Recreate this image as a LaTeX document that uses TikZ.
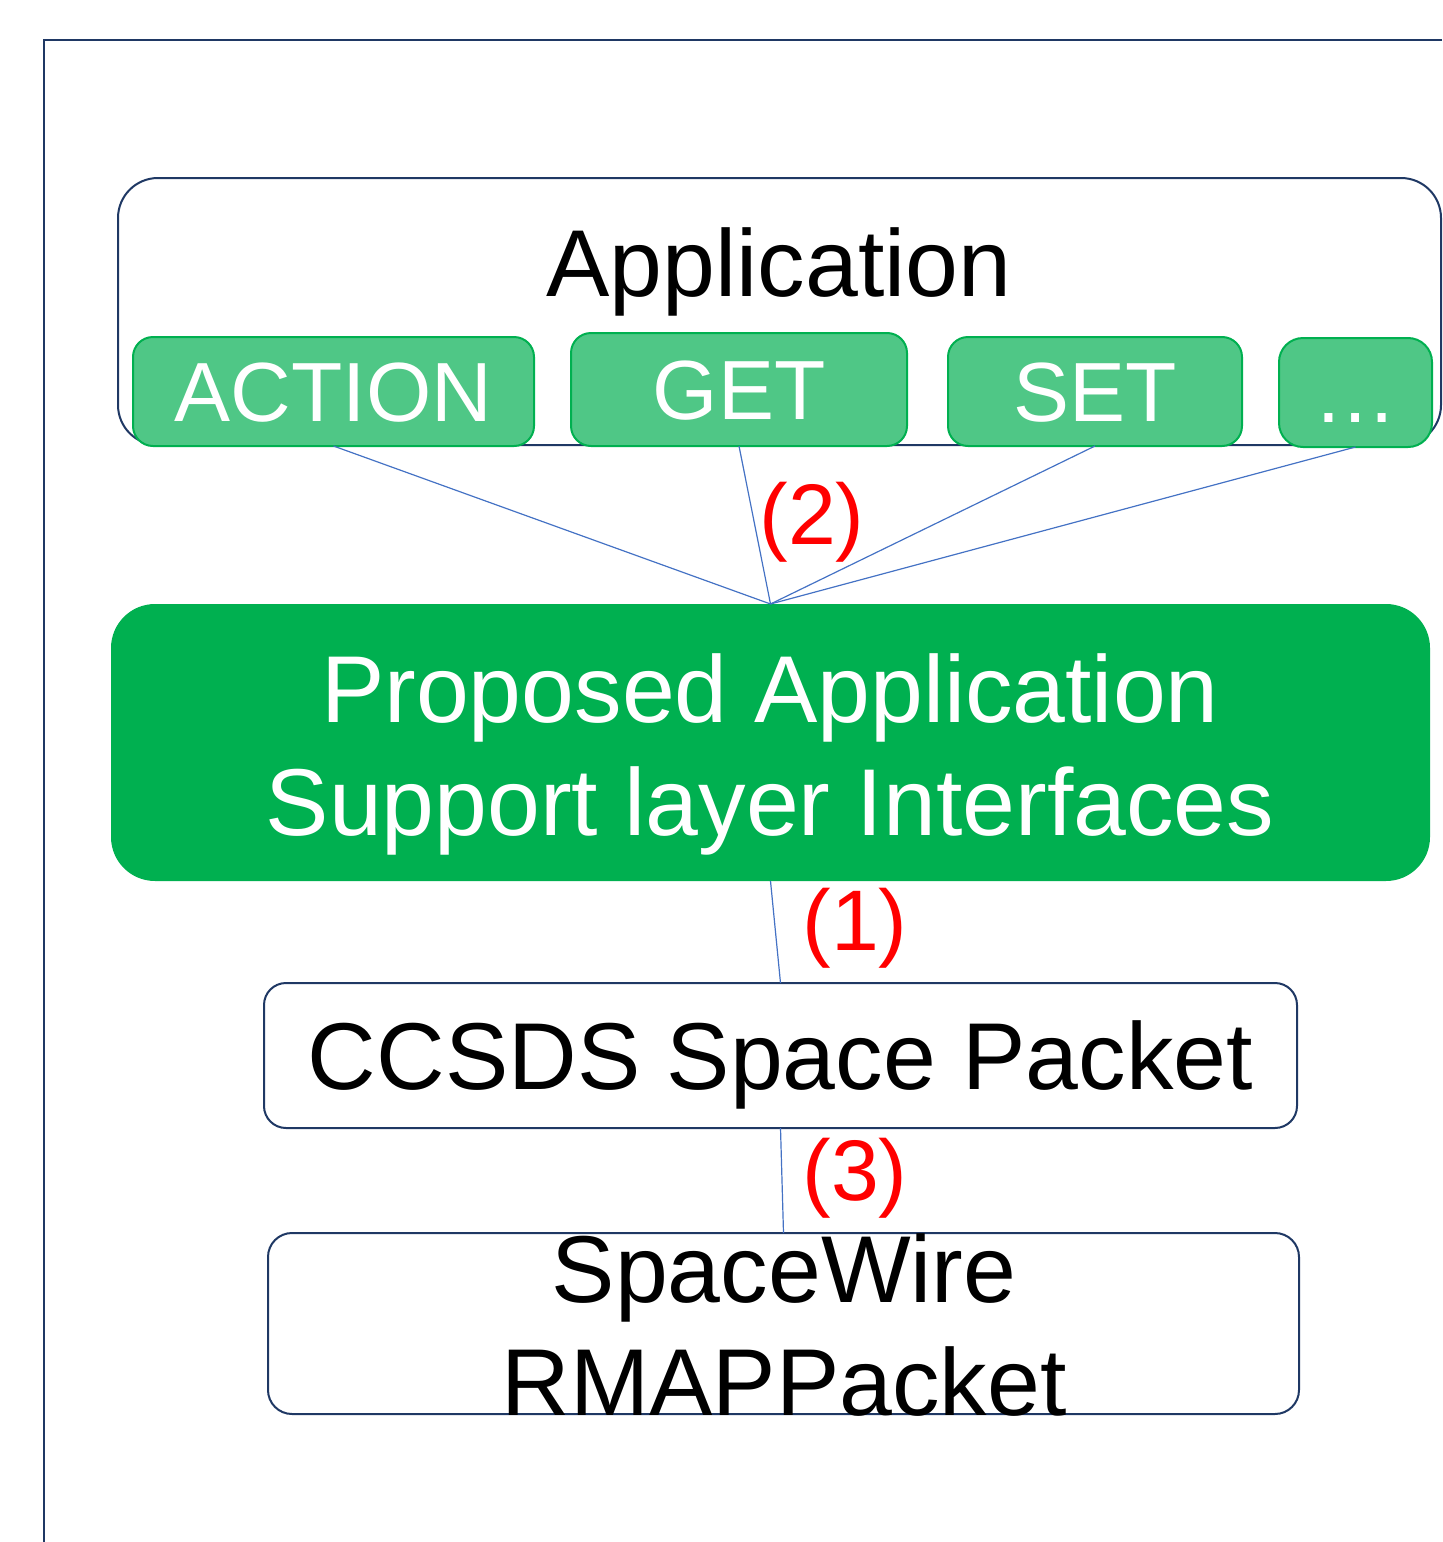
\documentclass[tikz,border=0pt]{standalone}
\usepackage{fontspec}
\setmainfont{Liberation Sans}

\definecolor{navy}{HTML}{1F3864}
\definecolor{opgreen}{HTML}{4FC786}
\definecolor{aslgreen}{HTML}{00B050}
\definecolor{linkblue}{HTML}{4472C4}

\begin{document}
\begin{tikzpicture}[x=0.5pt, y=-0.5pt,
	every node/.style={inner sep=0pt, outer sep=0pt},
	layer/.style={draw=navy, line width=1pt, rounded corners=#1},
	big/.style={font=\fontsize{47.5}{56.5}\selectfont},
	op/.style={draw=aslgreen, line width=1pt, fill=opgreen, rounded corners=10pt, text=white, font=\fontsize{42}{50}\selectfont, text height=30pt, text depth=0pt, minimum height=54.5pt},
	num/.style={text=red, font=\fontsize{43}{50}\selectfont},
	link/.style={draw=linkblue, line width=0.6pt}]
	\useasboundingbox (0,0) rectangle (1442,1542);
	\draw[navy, line width=1.2pt] (1442,40) -| (44,1542);

	% application layer and its operations
	\node[layer=20pt, minimum width=661.5pt, minimum height=133.5pt] (app) at (779.5,311.5) {};
	\node[big, anchor=base] (apptitle) at (779,296) {Application};
	\node[op, minimum width=200.5pt] (act) at (333.5,391.5) {ACTION};
	\node[op, minimum width=168pt, minimum height=56.5pt] (get) at (739,389.5) {GET};
	\node[op, minimum width=147pt] (set) at (1095,391.5) {SET};
	\node[op, minimum width=76.5pt, rounded corners=12pt] (more) at (1355.5,392.5) {…};

	% support layer
	\node[fill=aslgreen, rounded corners=22pt, minimum width=659.5pt, minimum height=138.5pt] (asl) at (770.5,742.5) {};
	\node[big, text=white, align=center] (asltext) at (770,754.5) {Proposed Application\\Support layer Interfaces};

	% packet layers
	\node[layer=11pt, big, text height=34pt, text depth=0pt, minimum width=516.5pt, minimum height=72.5pt] (ccsds) at (780.5,1055.5) {CCSDS Space Packet};
	\node[layer=12pt, minimum width=515.5pt, minimum height=90.5pt] (spw) at (783.5,1323.5) {};
	\node[big, align=center] (spwtext) at (784,1325.5) {SpaceWire\\RMAPPacket};

	\foreach \o in {act,get,set,more}
		\draw[link] (\o.south) -- (asl.north);
	\draw[link] (asl.south) -- (ccsds.north);
	\draw[link] (ccsds.south) -- (spw.north);

	\node[num] (n2) at (812,522) {(2)};
	\node[num] (n1) at (855,928) {(1)};
	\node[num] (n3) at (855,1178) {(3)};
\end{tikzpicture}
\end{document}
